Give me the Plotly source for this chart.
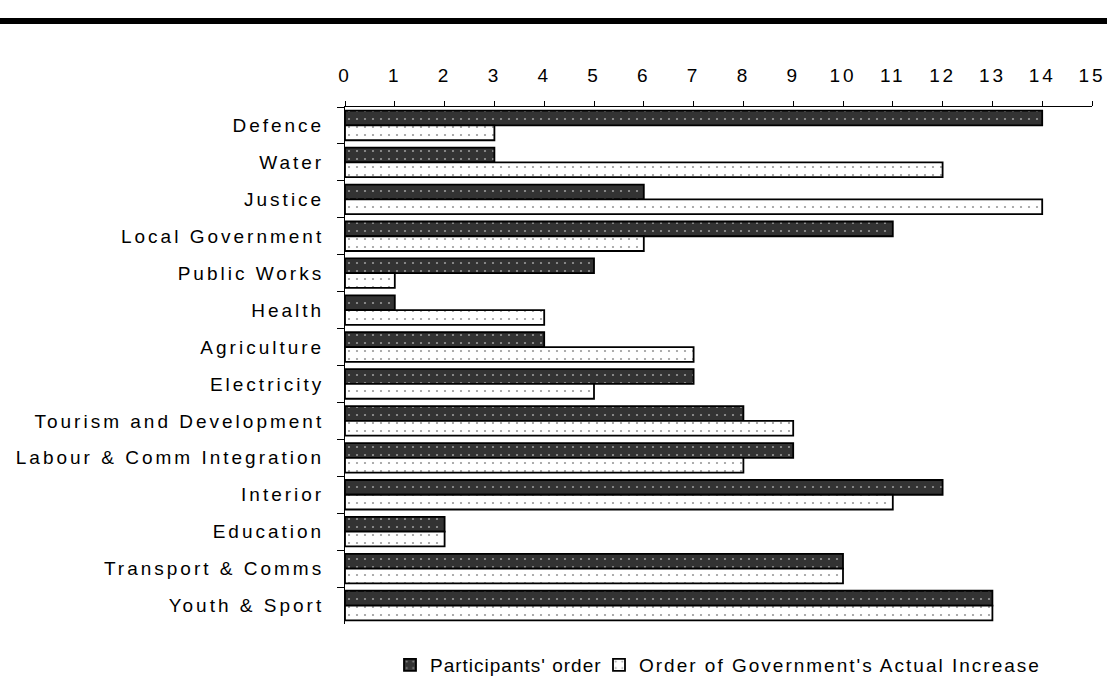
import plotly.graph_objects as go

categories = ["Defence", "Water", "Justice", "Local Government", "Public Works", "Health",
              "Agriculture", "Electricity", "Tourism and Development", "Labour & Comm Integration",
              "Interior", "Education", "Transport & Comms", "Youth & Sport"]
participants = [14, 3, 6, 11, 5, 1, 4, 7, 8, 9, 12, 2, 10, 13]
government = [3, 12, 14, 6, 1, 4, 7, 5, 9, 8, 11, 2, 10, 13]
x_ticks = list(range(0, 16))

DARK = "#333333"
FONT = "Liberation Sans, Arial, sans-serif"

fig = go.Figure()
fig.add_trace(go.Bar(
    y=categories, x=participants, orientation="h", name="Participants' order", legend="legend",
    marker=dict(color=DARK, line=dict(color="black", width=1.8),
                pattern=dict(shape=".", fgcolor="white", bgcolor=DARK, size=8, solidity=0.06)),
))
fig.add_trace(go.Bar(
    y=categories, x=government, orientation="h", name="Order of Government's Actual Increase",
    legend="legend2",
    marker=dict(color="white", line=dict(color="black", width=1.8),
                pattern=dict(shape=".", fgcolor=DARK, bgcolor="white", size=8, solidity=0.06)),
))

W, H = 1107, 677
L, R, T, B = 345, 15, 107, 53
pw, ph = W - L - R, H - T - B


def px_x(p):
    return (p - L) / pw


def px_y(p):
    return (H - B - p) / ph


fig.update_layout(
    width=W, height=H,
    margin=dict(l=L, r=R, t=T, b=B, autoexpand=False),
    barmode="group", bargap=0.2, bargroupgap=0,
    plot_bgcolor="white", paper_bgcolor="white",
    font=dict(family=FONT, size=19, color="black"),
    showlegend=True,
    legend=dict(orientation="h", x=px_x(390), xanchor="left", y=px_y(665), yanchor="middle",
                bgcolor="rgba(0,0,0,0)", font=dict(size=19), entrywidth=230, entrywidthmode="pixels"),
    legend2=dict(orientation="h", x=px_x(599), xanchor="left", y=px_y(665), yanchor="middle",
                 bgcolor="rgba(0,0,0,0)", font=dict(size=19), entrywidth=460, entrywidthmode="pixels"),
    xaxis=dict(side="top", range=[0, 15], tickvals=x_ticks, showgrid=False, zeroline=False,
               showline=True, linecolor="black", linewidth=1, ticks="outside", ticklen=5,
               tickcolor="black", ticklabelstandoff=11, automargin=False),
    yaxis=dict(autorange="reversed", showgrid=False, zeroline=False, showline=True,
               linecolor="black", linewidth=1, ticks="outside", ticklen=7, tickcolor="black",
               tickson="boundaries", ticklabelstandoff=16, automargin=False),
    shapes=[dict(type="line", xref="paper", yref="paper",
                 x0=px_x(0), x1=px_x(W), y0=px_y(21), y1=px_y(21),
                 line=dict(color="black", width=6))],
)

post = """
document.body.style.margin = '0';
var st = document.createElement('style');
st.textContent = '.ytick text{letter-spacing:3px} .xtick text{letter-spacing:2.9px} '
  + '.legendtext{letter-spacing:1px} .legend2text{letter-spacing:2px}';
document.head.appendChild(st);
"""

fig.write_html("out.html", post_script=post, config={"displayModeBar": False})
